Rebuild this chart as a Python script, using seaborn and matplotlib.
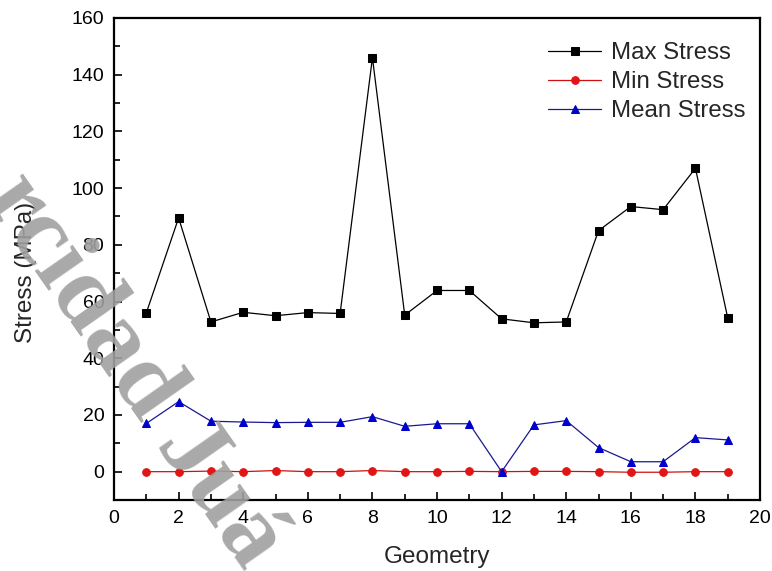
import numpy as np
import pandas as pd
import seaborn as sns
import matplotlib.pyplot as plt
from matplotlib.ticker import MultipleLocator

# Data
geometry = list(range(1, 20))
max_stress = [56.0, 89.5, 52.8, 56.2, 55.0, 56.1, 55.8, 146.0, 55.2, 63.9,
              63.9, 53.9, 52.5, 52.8, 85.0, 93.5, 92.4, 107.0, 54.2]
min_stress = [0.0, 0.0, 0.2, 0.0, 0.4, 0.0, 0.0, 0.4, 0.0, 0.0,
              0.1, 0.0, 0.1, 0.1, 0.0, -0.2, -0.2, 0.0, 0.0]
mean_stress = [17.0, 24.7, 17.8, 17.5, 17.3, 17.4, 17.4, 19.4, 16.0, 16.9,
               16.9, 0.0, 16.5, 18.0, 8.5, 3.5, 3.5, 12.0, 11.2]

df = pd.DataFrame({'Geometry': geometry, 'Max Stress': max_stress,
                   'Min Stress': min_stress, 'Mean Stress': mean_stress})

sns.set_style('ticks')
plt.rcParams['font.family'] = ['Liberation Sans', 'DejaVu Sans']

fig = plt.figure(figsize=(7.72, 5.71), dpi=100)
ax = fig.add_axes([0.1477, 0.1243, 0.8368, 0.8442])

# watermark running diagonally over the lower left (cut by the edges, as in the source)
fig.text(-0.022, 0.655, 'rcidad Juá', rotation=-55, fontsize=72,
         family='Liberation Serif', fontweight='bold', color='#a0a0a0',
         alpha=0.9, ha='left', va='baseline', rotation_mode='anchor',
         zorder=10)

series = [('Max Stress', 'black', 's', 'black'),
          ('Min Stress', '#d01010', 'o', '#e01515'),
          ('Mean Stress', '#1a1a90', '^', '#0000cc')]
for name, lc, mk, mc in series:
    sns.lineplot(data=df, x='Geometry', y=name, ax=ax, color=lc, lw=0.9,
                 marker=mk, markersize=5.5, markerfacecolor=mc,
                 markeredgecolor=mc, label=name)

ax.set_xlim(0, 20)
ax.set_ylim(-10, 160)
ax.xaxis.set_major_locator(MultipleLocator(2))
ax.xaxis.set_minor_locator(MultipleLocator(1))
ax.yaxis.set_major_locator(MultipleLocator(20))
ax.yaxis.set_minor_locator(MultipleLocator(10))
ax.tick_params(which='both', direction='in', top=False, right=False,
               width=1.2, labelsize=14, colors='black')
ax.tick_params(which='major', length=6, pad=7)
ax.tick_params(which='minor', length=4)
for s in ax.spines.values():
    s.set_linewidth(1.6)
    s.set_color('black')

ax.set_xlabel('Geometry', fontsize=17.5, labelpad=14)
ax.set_ylabel('Stress (MPa)', fontsize=17.5)
ax.yaxis.set_label_coords(-0.12, 0.473)

leg = ax.legend(loc='upper right', bbox_to_anchor=(1.014, 1.0), frameon=False,
                fontsize=17.3, handlelength=2.2, handletextpad=0.4,
                labelspacing=0.3, borderaxespad=0.6)

fig.savefig('out.png', dpi=100)
